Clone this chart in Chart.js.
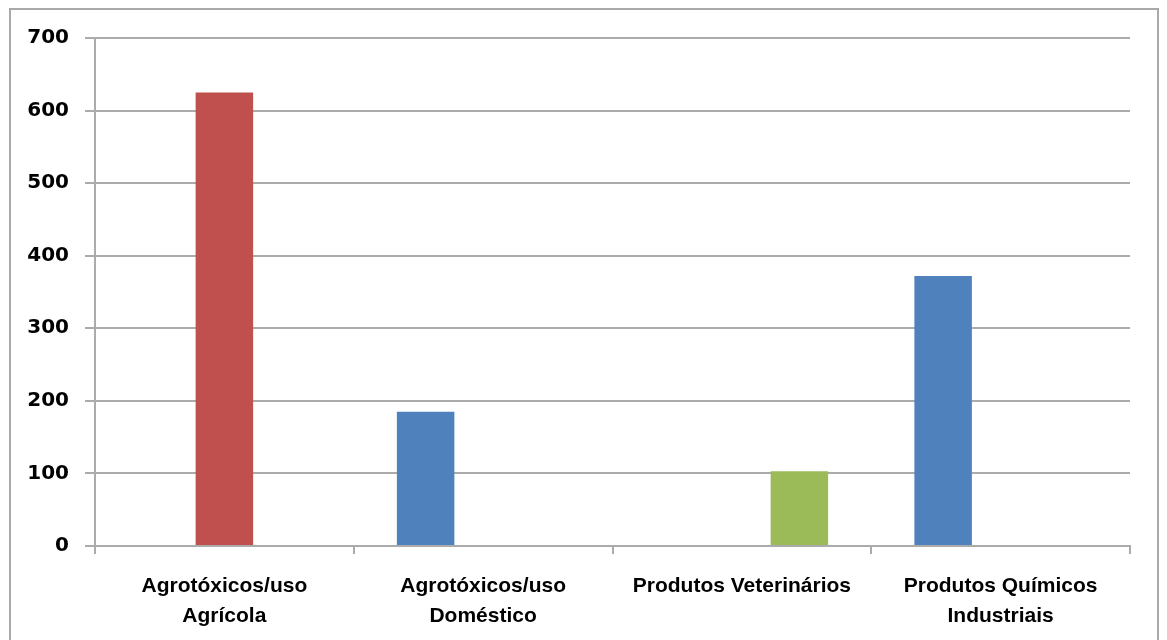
<!DOCTYPE html>
<html>
<head>
<meta charset="utf-8">
<script src="https://cdn.jsdelivr.net/npm/chart.js@4"></script>
<style>
  html, body { margin: 0; padding: 0; background: #fff; overflow: hidden; }
  #wrap { position: relative; width: 1167px; height: 640px; }
  #frame { position: absolute; left: 9px; top: 8px; width: 1150px; height: 700px; border: 2px solid #a9a9a9; box-sizing: border-box; }
  #chart { position: absolute; left: 0; top: 0; }
</style>
</head>
<body>
<div id="wrap">
  <div id="frame"></div>
  <canvas id="chart" width="1167" height="640"></canvas>
</div>
<script>
document.addEventListener('DOMContentLoaded', () => {
    const categories = [
        ['Agrotóxicos/uso', 'Agrícola'],
        ['Agrotóxicos/uso', 'Doméstico'],
        'Produtos Veterinários',
        ['Produtos Químicos', 'Industriais']
    ];
    // three series, each category only fills one slot
    const blueValues = [null, 185, null, 372];
    const redValues = [625, null, null, null];
    const greenValues = [null, null, 103, null];
    const yTicks = [0, 100, 200, 300, 400, 500, 600, 700];

    const gridColor = '#ababab';
    const ctx = document.getElementById('chart').getContext('2d');

    new Chart(ctx, {
        type: 'bar',
        data: {
            labels: categories,
            datasets: [
                { label: 'Série 1', data: blueValues, backgroundColor: '#4f81bd' },
                { label: 'Série 2', data: redValues, backgroundColor: '#c0504d' },
                { label: 'Série 3', data: greenValues, backgroundColor: '#9bbb59' }
            ]
        },
        options: {
            responsive: false,
            animation: false,
            events: [],
            layout: { padding: { top: 38, right: 37, left: 0, bottom: 0 } },
            datasets: { bar: { categoryPercentage: 3 / 4.5, barPercentage: 1 } },
            plugins: { legend: { display: false }, tooltip: { enabled: false } },
            scales: {
                x: {
                    grid: { drawOnChartArea: false, color: gridColor, lineWidth: 2, tickLength: 8, offset: true },
                    border: { color: gridColor, width: 2 },
                    ticks: {
                        color: '#000',
                        padding: 17,
                        maxRotation: 0,
                        autoSkip: false,
                        font: { family: 'Liberation Sans', weight: 'bold', size: 21, lineHeight: 1.43 }
                    },
                    afterFit: (scale) => { scale.height = 94; }
                },
                y: {
                    min: 0,
                    max: 700,
                    afterBuildTicks: (scale) => { scale.ticks = yTicks.map(v => ({ value: v })); },
                    grid: { color: gridColor, lineWidth: 2, tickLength: 10 },
                    border: { color: gridColor, width: 2 },
                    ticks: {
                        color: '#000',
                        padding: 16,
                        font: { family: 'DejaVu Sans', weight: 'bold', size: 20 }
                    },
                    afterFit: (scale) => { scale.width = 95; }
                }
            }
        }
    });
});
</script>
</body>
</html>
